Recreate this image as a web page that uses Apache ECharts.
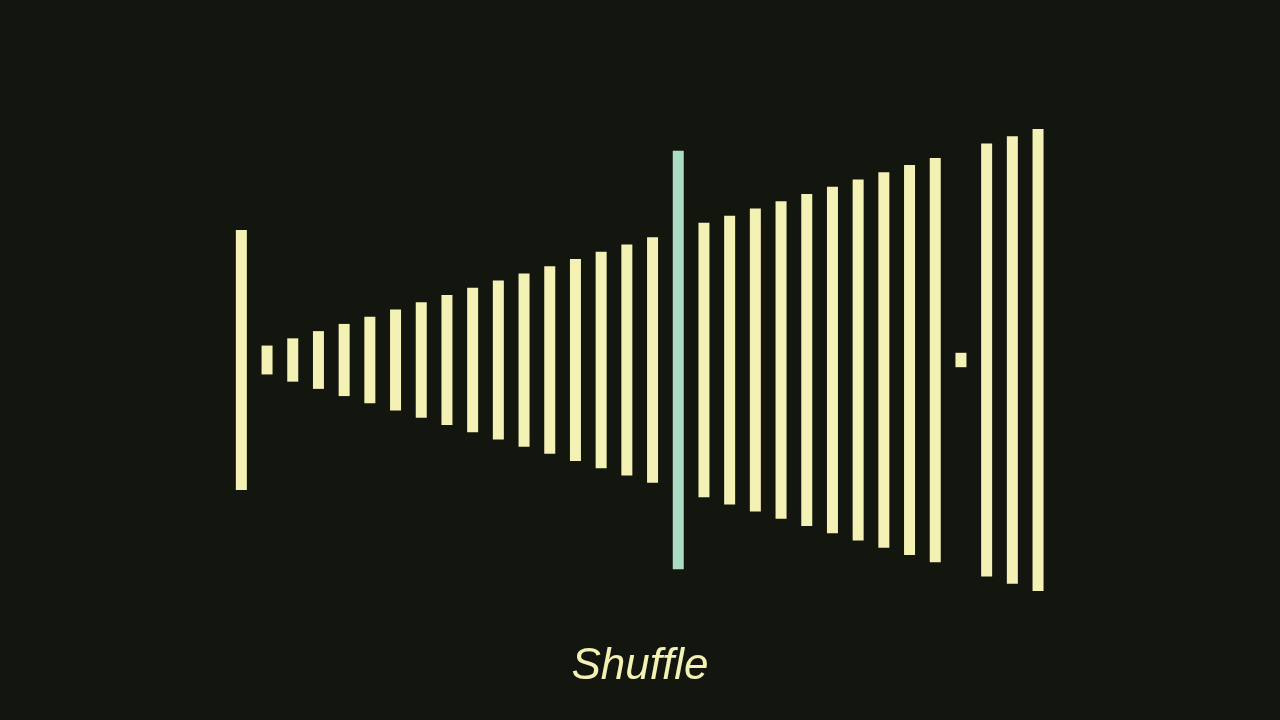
<!DOCTYPE html>
<html>
<head>
<meta charset="utf-8">
<script src="https://cdn.jsdelivr.net/npm/echarts@6/dist/echarts.min.js"></script>
<style>
  html, body { margin: 0; padding: 0; background: #13160e; }
  #main { width: 1280px; height: 720px; }
</style>
</head>
<body>
<div id="main"></div>
<script>
// current array state while shuffling (heights 1..32)
var positions = [];
for (var i = 0; i < 32; i++) positions.push(String(i));
var values = [18, 2, 3, 4, 5, 6, 7, 8, 9, 10, 11, 12, 13, 14, 15, 16, 17,
  29, 19, 20, 21, 22, 23, 24, 25, 26, 27, 28, 1, 30, 31, 32];
var activeIndex = [17];
var maxValue = 32;

var barColor = "#f4f1b4";
var activeColor = "#a9dcc2";

var dom = document.getElementById("main");
var myChart = echarts.init(dom, null, { renderer: "canvas" });

// transparent offset so each bar sits centred on the middle line
var offsets = values.map(function (v) { return (maxValue - v) / 2; });
var bars = values.map(function (v, i) {
  return {
    value: v,
    itemStyle: { color: activeIndex.indexOf(i) >= 0 ? activeColor : barColor },
  };
});

var option = {
  backgroundColor: "#13160e",
  animation: false,
  title: {
    text: "Shuffle",
    left: "center",
    top: 640,
    textStyle: {
      color: "#f4f1b4",
      fontFamily: "Liberation Sans",
      fontStyle: "italic",
      fontWeight: "normal",
      fontSize: 44,
    },
  },
  grid: { left: 228.5, top: 129, width: 822.4, height: 462 },
  xAxis: {
    type: "category",
    data: positions,
    show: false,
  },
  yAxis: {
    type: "value",
    min: 0,
    max: maxValue,
    show: false,
  },
  series: [
    {
      type: "bar",
      stack: "s",
      data: offsets,
      barWidth: 11,
      itemStyle: { color: "transparent" },
      silent: true,
    },
    {
      type: "bar",
      stack: "s",
      data: bars,
      barWidth: 11,
    },
  ],
};

myChart.setOption(option);
window.addEventListener("resize", myChart.resize);
</script>
</body>
</html>
